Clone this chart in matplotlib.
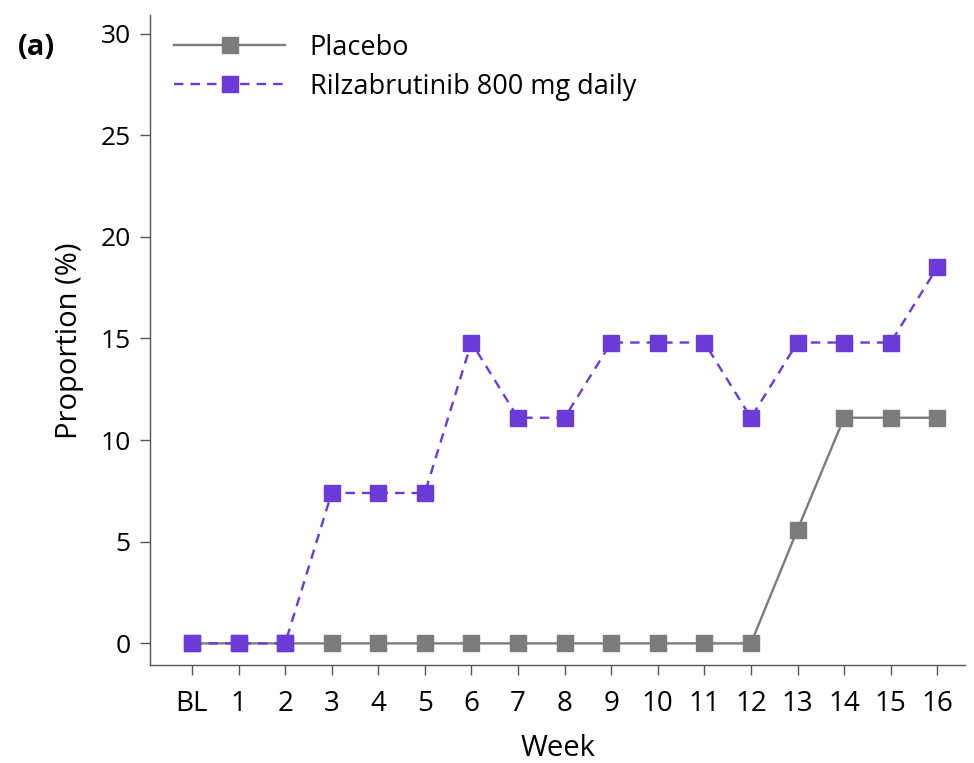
import matplotlib
matplotlib.use("Agg")
import matplotlib.pyplot as plt

weeks = ["BL", "1", "2", "3", "4", "5", "6", "7", "8", "9", "10", "11", "12", "13", "14", "15", "16"]
placebo = [0, 0, 0, 0, 0, 0, 0, 0, 0, 0, 0, 0, 0, 5.6, 11.1, 11.1, 11.1]
rilza = [0, 0, 0, 7.4, 7.4, 7.4, 14.8, 11.1, 11.1, 14.8, 14.8, 14.8, 11.1, 14.8, 14.8, 14.8, 18.5]
yticks = [0, 5, 10, 15, 20, 25, 30]

plt.rcParams['font.family'] = ['Open Sans', 'DejaVu Sans']

fig = plt.figure(figsize=(9.74, 7.63), dpi=100)
ax = fig.add_axes([0.154, 0.128, 0.837, 0.852])

x = list(range(len(weeks)))
gray = "#7c7c7c"
purple = "#6a3bd9"
ax.plot(x, placebo, color=gray, lw=1.7, marker="s", ms=11.5, mec=gray, mfc=gray,
        label="Placebo", zorder=2)
ax.plot(x, rilza, color=purple, lw=1.7, ls=(0, (4, 3)), marker="s", ms=11.5,
        mec=purple, mfc=purple, label="Rilzabrutinib 800 mg daily", zorder=3)

ax.set_xlim(-0.9, 16.6)
ax.set_ylim(-1.08, 30.9)
ax.set_xticks(x)
ax.set_xticklabels(weeks, fontsize=20)
ax.set_yticks(yticks)
ax.set_yticklabels([str(v) for v in yticks], fontsize=19)
ax.tick_params(direction="out", length=7, width=1, color="#555555", pad=7)
ax.tick_params(axis="x", pad=11)
for s in ["top", "right"]:
    ax.spines[s].set_visible(False)
for s in ["left", "bottom"]:
    ax.spines[s].set_color("#555555")
    ax.spines[s].set_linewidth(1)

ax.set_xlabel("Week", fontsize=21, labelpad=11)
ax.set_ylabel("Proportion (%)", fontsize=21, labelpad=12)

leg = ax.legend(loc="upper left", bbox_to_anchor=(0.0, 1.009), frameon=False,
                fontsize=19.5, handlelength=4.1, handletextpad=0.9, labelspacing=0.4)

fig.text(0.018, 0.928, "(a)", fontsize=21, fontweight="bold")

fig.savefig("out.png", dpi=100)
